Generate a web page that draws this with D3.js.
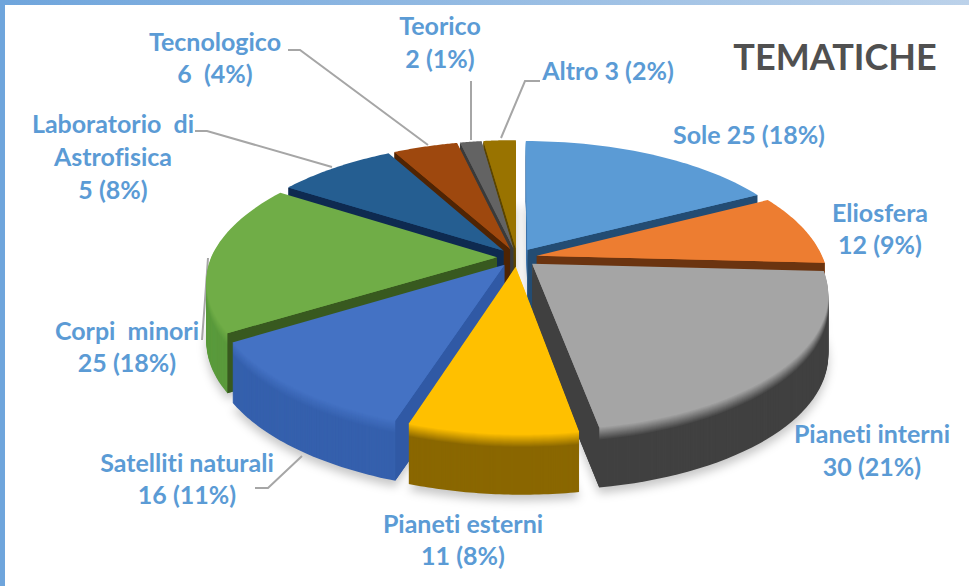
<!DOCTYPE html>
<html>
<head>
<meta charset="utf-8">
<title>Tematiche</title>
<script src="https://cdn.jsdelivr.net/npm/d3@7"></script>
<style>
  html, body { margin: 0; padding: 0; background: #fff; }
  svg { display: block; }
  text { font-family: Lato, "Open Sans", sans-serif; font-weight: 700; white-space: pre; font-variant-ligatures: none; }
</style>
</head>
<body>
<div id="chart"></div>
<script>
// Data
var themes = ["Sole", "Eliosfera", "Pianeti interni", "Pianeti esterni", "Satelliti naturali",
              "Corpi minori", "Laboratorio di Astrofisica", "Tecnologico", "Teorico", "Altro"];
// the Laboratorio slice is drawn at 8% although its label says 5
var sliceValues = [25, 12, 30, 11, 16, 25, 11, 6, 2, 3];
var labelTexts = [
  ["Sole 25 (18%)"],
  ["Eliosfera", "12 (9%)"],
  ["Pianeti interni", "30 (21%)"],
  ["Pianeti esterni", "11 (8%)"],
  ["Satelliti naturali", "16 (11%)"],
  ["Corpi  minori", "25 (18%)"],
  ["Laboratorio  di", "Astrofisica", "5 (8%)"],
  ["Tecnologico", "6  (4%)"],
  ["Teorico", "2 (1%)"],
  ["Altro 3 (2%)"]
];
var chartTitle = "TEMATICHE";

var topColours   = ["#5b9bd5", "#ed7d31", "#a5a5a5", "#ffc000", "#4472c4", "#70ad47", "#255e91", "#9e480e", "#636363", "#997300"];
var wallColours  = ["#3f77ab", "#b55c20", "#414141", "#8a6700", "#3560ad", "#5a9a3c", "#1c4a75", "#6e3208", "#444444", "#6b5000"];
var innerColours = ["#234c73", "#6b3410", "#404040", "#8a6700", "#3059a5", "#38591f", "#0e2a50", "#4f2404", "#3a3a3a", "#5a4400"];

// Label placement, same order as themes
var labelX = [749, 880, 872, 463, 187, 127, 113, 215, 440, 608];
var labelY = [144, 222, 443, 533, 472, 340, 133, 51, 35, 80];
var lineStep = [0, 32, 33, 32, 32, 32, 33, 32, 33, 0];

// Leader lines
var leaders = [
  [[288, 50], [300, 50], [428, 145]],
  [[471, 81], [471, 140]],
  [[540, 81], [525, 81], [501, 138]],
  [[195, 131], [207, 131], [332, 167]],
  [[202, 340], [205, 300], [208, 258]],
  [[255, 488], [268, 488], [302, 456]]
];

var width = 969,
    height = 586;

// Pie geometry: a tilted disc seen in perspective, a little off axis
var cx = 517,
    cy = 257.5,
    radiusX = 286,
    radiusY = 132,
    perspective = 0.19,
    explode = 0.07,
    skew = 7,
    warp = 0.026,
    depth = 60,
    bevel = 13;

var svg = d3.select("#chart").append("svg")
  .attr("width", width)
  .attr("height", height);

var defs = svg.append("defs");
var topBand = defs.append("linearGradient").attr("id", "topBand");
topBand.append("stop").attr("offset", "0%").attr("stop-color", "#6fa5dc");
topBand.append("stop").attr("offset", "100%").attr("stop-color", "#bcd2ea");
defs.append("filter").attr("id", "soft")
  .attr("x", "-10%").attr("y", "-10%").attr("width", "120%").attr("height", "120%")
  .append("feGaussianBlur").attr("stdDeviation", 5);

svg.append("rect").attr("width", width).attr("height", height).attr("fill", "#fff");
svg.append("rect").attr("width", width).attr("height", 5).attr("fill", "url(#topBand)");
svg.append("rect").attr("width", 5).attr("height", height).attr("fill", "#6fa5dc");

var slices = d3.pie().sort(null)(sliceValues);

// disc coordinates -> screen
function project(angle, r, mid) {
  var a = angle - warp * Math.abs(Math.sin(angle));
  var X = r * Math.sin(a) + explode * Math.sin(mid);
  var Y = -r * Math.cos(a) - explode * Math.cos(mid);
  var s = 1 / (1 - perspective * Y);
  return [cx + radiusX * X * s + skew * Math.max(Y, 0), cy + radiusY * Y * s];
}

var line = d3.line();

function outline(d) {
  var mid = (d.startAngle + d.endAngle) / 2;
  var pts = [project(0, 0, mid)];
  d3.range(0, 41).forEach(function(i) {
    pts.push(project(d.startAngle + (d.endAngle - d.startAngle) * i / 40, 1, mid));
  });
  return pts;
}

function shifted(pts, dy) {
  return pts.map(function(p) { return [p[0], p[1] + dy]; });
}

// Shadow under the bottom of each slice
svg.append("g")
  .attr("filter", "url(#soft)")
  .selectAll("path")
  .data(slices)
  .enter()
  .append("path")
    .attr("d", function(d) { return line(shifted(outline(d), depth + 6)) + "Z"; })
    .attr("fill", "#000")
    .attr("opacity", 0.22);

// Leader lines go behind the pie
svg.append("g")
  .selectAll("path")
  .data(leaders)
  .enter()
  .append("path")
    .attr("d", line)
    .attr("fill", "none")
    .attr("stroke", "#a6a6a6")
    .attr("stroke-width", 2);

// Back slices first
var order = slices.slice().sort(function(a, b) {
  return Math.cos((b.startAngle + b.endAngle) / 2) - Math.cos((a.startAngle + a.endAngle) / 2);
});

var pie = svg.append("g");

order.forEach(function(d) {
  var g = pie.append("g");
  var pts = outline(d);
  var mid = (d.startAngle + d.endAngle) / 2;
  var blend = d3.interpolateRgb(topColours[d.index], wallColours[d.index]);

  // outer wall: a stack of copies, the top few blending into the face colour
  d3.range(depth, 0, -1).forEach(function(h) {
    g.append("path")
      .attr("d", line(shifted(pts, h)) + "Z")
      .attr("fill", h < bevel ? blend(h / bevel) : wallColours[d.index]);
  });

  // radial walls that face the viewer
  [d.startAngle, d.endAngle].forEach(function(a, i) {
    var facing = i == 0 ? -Math.sin(a) : Math.sin(a);
    if (facing <= 0.02) return;
    var apex = project(0, 0, mid), rim = project(a, 1, mid);
    g.append("path")
      .attr("d", line([apex, rim, [rim[0], rim[1] + depth], [apex[0], apex[1] + depth]]) + "Z")
      .attr("fill", innerColours[d.index]);
  });

  g.append("path")
    .attr("d", line(pts) + "Z")
    .attr("fill", topColours[d.index]);
});

// Labels
var labels = svg.append("g")
  .selectAll("text")
  .data(labelTexts)
  .enter()
  .append("text")
    .attr("text-anchor", "middle")
    .attr("font-size", 25)
    .attr("fill", "#5b9bd5")
    .attr("y", function(d, i) { return labelY[i]; });

labels.selectAll("tspan")
  .data(function(d, i) { return d.map(function(t, j) { return { t: t, j: j, i: i }; }); })
  .enter()
  .append("tspan")
    .attr("x", function(d) { return labelX[d.i]; })
    .attr("y", function(d) { return labelY[d.i] + d.j * lineStep[d.i]; })
    .text(function(d) { return d.t; });

svg.append("text")
  .attr("x", 835)
  .attr("y", 70)
  .attr("text-anchor", "middle")
  .attr("font-size", 36)
  .attr("fill", "#505050")
  .text(chartTitle);
</script>
</body>
</html>
